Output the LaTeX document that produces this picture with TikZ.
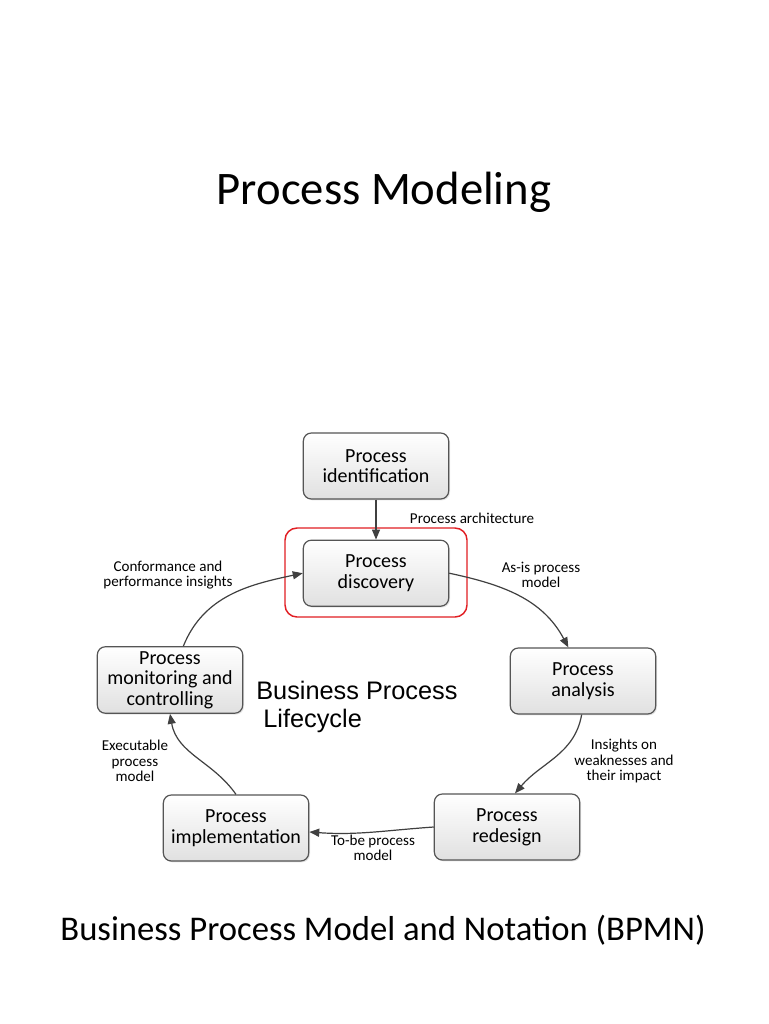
\documentclass[tikz,border=0pt]{standalone}
\usepackage{fontspec}
\setmainfont{Carlito}
\newfontfamily\arialfont{Liberation Sans}
\usetikzlibrary{arrows.meta, positioning, shadows}
\definecolor{boxline}{RGB}{85,85,85}
\definecolor{arrowgray}{RGB}{64,64,64}
\definecolor{framered}{RGB}{225,30,35}

\begin{document}
\begin{tikzpicture}[
    x=0.75pt, y=0.75pt,
    phase/.style={rectangle, rounded corners=6pt, draw=boxline, line width=0.9pt, top color=white, bottom color=black!12, minimum width=109pt, minimum height=49.5pt, align=center, font=\fontsize{15}{15.5}\selectfont, drop shadow={opacity=0.2, shadow xshift=1pt, shadow yshift=-1pt}},
    flow/.style={-{Triangle[length=7.5pt, width=6pt]}, line width=0.9pt, arrowgray},
    note/.style={font=\fontsize{11.3}{11.5}\selectfont, align=center, inner sep=0pt},
]
    \useasboundingbox[fill=white] (0,0) rectangle (768,-1024);

    % Titles
    \node[font=\fontsize{35}{40}\selectfont] (title) at (384,-192) {Process Modeling};
    \node[font=\fontsize{26}{30}\selectfont] (subtitle) at (383,-930) {Business Process Model and Notation (BPMN)};

    % Lifecycle phases
    \node[phase] (ident) at (376,-466) {Process\\identification};
    \node[phase, below=30pt of ident] (disc) {Process\\discovery};
    \node[phase] (analysis) at (583,-681) {Process\\analysis};
    \node[phase] (redesign) at (507,-827) {Process\\redesign};
    \node[phase] (impl) at (236,-828) {Process\\implementation};
    \node[phase] (monitor) at (170,-680) {Process\\monitoring and\\controlling};

    % Highlight
    \draw[framered, line width=1.1pt, rounded corners=9pt] (285,-528) rectangle (467,-617);

    % Centre caption
    \node[font=\arialfont\fontsize{19}{21}\selectfont, align=left, anchor=west, inner sep=0pt] (cycle) at (256,-707) {Business Process\\\ Lifecycle};

    % Arrows
    \draw[flow] (ident) -- (disc);
    \draw[flow] (disc.east) to[out=-12, in=118] ([xshift=-11pt]analysis.north);
    \draw[flow] ([xshift=-1pt]analysis.south) to[out=-100, in=50] ([xshift=6pt]redesign.north);
    \draw[flow] (redesign.west) to[out=184, in=-4] ([yshift=-3pt]impl.east);
    \draw[flow] (impl.north) to[out=125, in=-80] (monitor.south);
    \draw[flow] ([xshift=10pt]monitor.north) to[out=68, in=192] (disc.west);

    % Arrow labels
    \node[note] (archlbl) at (472,-518) {Process architecture};
    \node[note] (asislbl) at (541,-575) {As-is process\\model};
    \node[note] (weaklbl) at (624,-761) {Insights on\\weaknesses and\\their impact};
    \node[note] (tobelbl) at (373,-848) {To-be process\\model};
    \node[note] (execlbl) at (135,-761) {Executable\\process\\model};
    \node[note] (conflbl) at (168,-575) {Conformance and\\performance insights};
\end{tikzpicture}
\end{document}
